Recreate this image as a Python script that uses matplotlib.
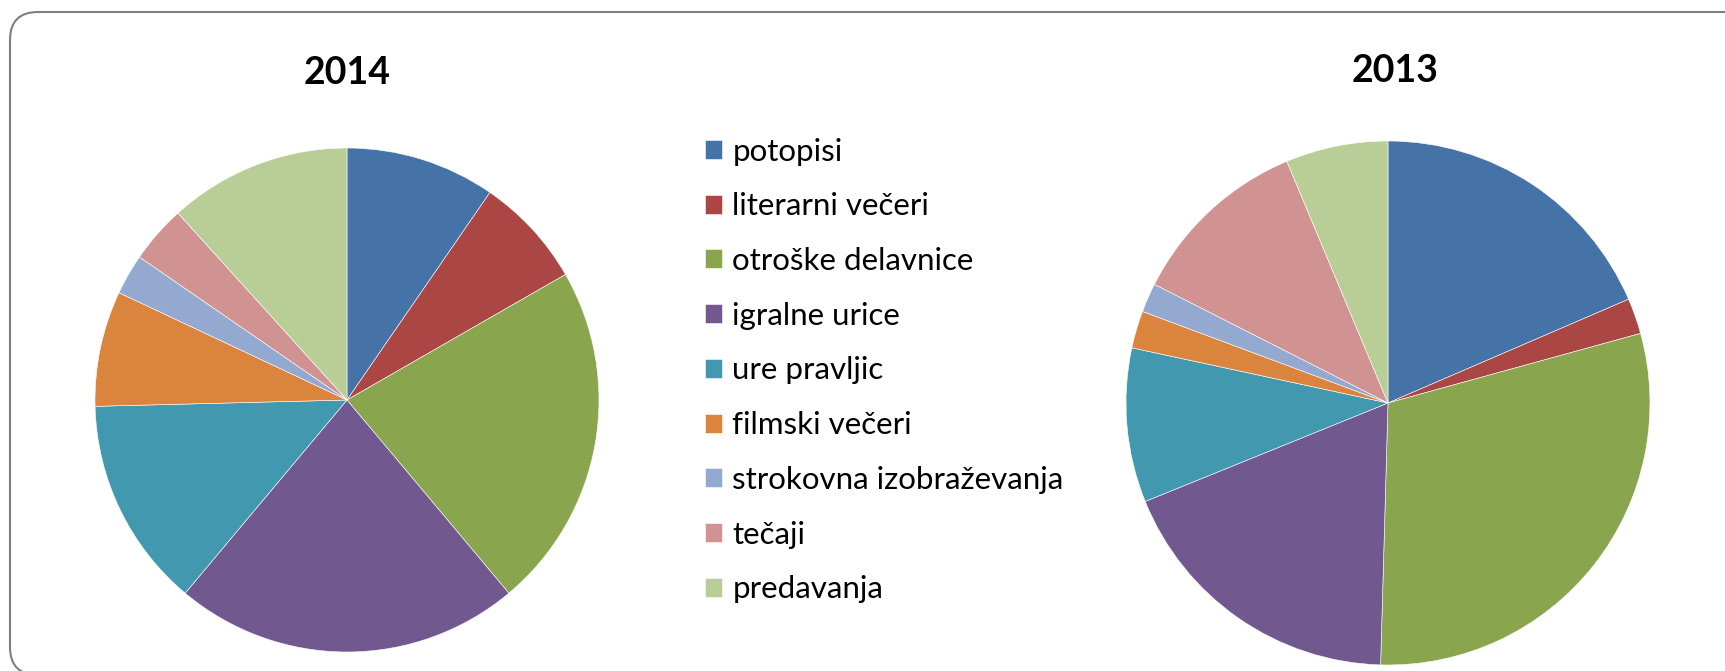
import matplotlib.pyplot as plt
from matplotlib.patches import FancyBboxPatch
from matplotlib.transforms import IdentityTransform

plt.rcParams['font.family'] = ['Lato', 'DejaVu Sans']

categories = ['potopisi', 'literarni večeri', 'otroške delavnice', 'igralne urice',
              'ure pravljic', 'filmski večeri', 'strokovna izobraževanja', 'tečaji',
              'predavanja']
share_2014 = [9.6, 7.1, 22.2, 22.2, 13.5, 7.4, 2.6, 3.7, 11.7]
share_2013 = [18.5, 2.2, 29.7, 18.4, 9.5, 2.3, 1.8, 11.2, 6.3]
colors = ['#4572A7', '#AA4643', '#89A54E', '#71588F', '#4198AF',
          '#DB843D', '#93A9CF', '#D19392', '#B9CD96']

W, H = 1725, 671
fig = plt.figure(figsize=(W / 100, H / 100), dpi=100)


def px_axes(cx, cy, r):
    # axes box in pixels, y measured from the top
    return fig.add_axes([(cx - r) / W, (H - cy - r) / H, 2 * r / W, 2 * r / H])


ax1 = px_axes(347, 400, 252)
ax2 = px_axes(1388, 403, 262)

wedges = None
for ax, vals in [(ax1, share_2014), (ax2, share_2013)]:
    w, _ = ax.pie(vals, colors=colors, startangle=90, counterclock=False,
                  radius=1, wedgeprops=dict(edgecolor='white', linewidth=0.4))
    ax.set_xlim(-1, 1)
    ax.set_ylim(-1, 1)
    ax.set_aspect('equal')
    ax.axis('off')
    if wedges is None:
        wedges = w

fig.text(347 / W, 1 - 73 / H, '2014', ha='center', va='center',
         fontsize=27, fontweight='bold')
fig.text(1395 / W, 1 - 71 / H, '2013', ha='center', va='center',
         fontsize=27, fontweight='bold')

fig.legend(wedges, categories, loc='upper left',
           bbox_to_anchor=(705 / W, 1 - 137.5 / H), frameon=False,
           fontsize=22.5, handlelength=0.555, handleheight=0.555,
           handletextpad=0.32, labelspacing=0.855, borderpad=0, borderaxespad=0)

# frame: only the left, top and bottom-left corner fall inside the picture
border = FancyBboxPatch((10, -4), 1800, 663, boxstyle='round,pad=0,rounding_size=28',
                        transform=IdentityTransform(), facecolor='none',
                        edgecolor='#7f7f7f', linewidth=1.5)
fig.patches.append(border)

fig.savefig('out.png', dpi=100)
